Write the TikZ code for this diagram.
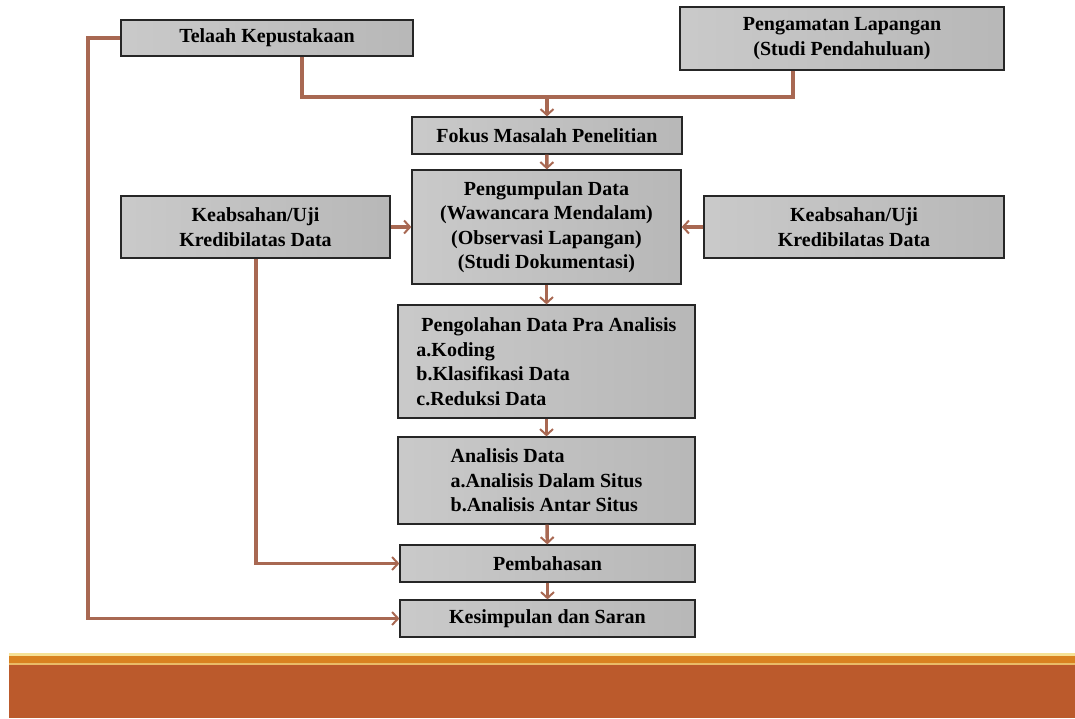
\documentclass[tikz,border=0pt]{standalone}
\usepackage{fontspec}
\setmainfont{Liberation Serif}
\usetikzlibrary{arrows.meta}

\definecolor{linkbrown}{RGB}{168,104,82}
\definecolor{bandorange}{RGB}{217,130,32}
\definecolor{bandred}{RGB}{187,90,44}
\definecolor{bandlight}{RGB}{246,226,150}

\tikzset{every picture/.style={line width=1.2pt}}
\tikzset{
  stepnode/.style={draw=black!85, inner sep=2pt, left color=black!21, right color=black!28,
    font=\fontsize{20}{24.5}\selectfont\bfseries},
  link/.style={draw=linkbrown, line width=3.4pt},
  linkarrow/.style={link, -{Straight Barb[length=6pt,width=13pt,line width=2pt]}}
}

\begin{document}
\begin{tikzpicture}[x=1pt,y=1pt,yscale=-1,xscale=1]
\useasboundingbox (0,0) rectangle (1075,718);

% top row
\node [stepnode, minimum width=292pt, minimum height=36pt] (tel) at (267,38) {Telaah Kepustakaan};
\node [stepnode, minimum width=324pt, minimum height=63pt, align=center] (pen) at (842,38.5) {Pengamatan Lapangan\\(Studi Pendahuluan)};

% middle column
\node [stepnode, minimum width=270pt, minimum height=37pt] (fok) at (547,135.5) {Fokus Masalah Penelitian};
\node [stepnode, minimum width=269pt, minimum height=114pt, align=center] (kum) at (546.5,227) {Pengumpulan Data\\(Wawancara Mendalam)\\(Observasi Lapangan)\\(Studi Dokumentasi)};
\node [stepnode, minimum width=297pt, minimum height=113pt, align=left] (olah) at (546.5,361.5) {\hspace*{5pt}Pengolahan Data Pra Analisis\\a.Koding\\b.Klasifikasi Data\\c.Reduksi Data};
\node [stepnode, minimum width=297pt, minimum height=87pt, align=left] (ana) at (546.5,480.5) {Analisis Data\\a.Analisis Dalam Situs\\b.Analisis Antar Situs};
\node [stepnode, minimum width=295pt, minimum height=37pt] (bhs) at (547.5,563.5) {Pembahasan};
\node [stepnode, minimum width=295pt, minimum height=37pt] (sim) at (547.5,618.5) {Kesimpulan dan Saran};

% side boxes
\node [stepnode, minimum width=269pt, minimum height=62pt, align=center] (keabL) at (255.5,227) {Keabsahan/Uji\\Kredibilatas Data};
\node [stepnode, minimum width=300pt, minimum height=62pt, align=center] (keabR) at (854,227) {Keabsahan/Uji\\Kredibilatas Data};

% junction above Fokus
\coordinate (jn) at (547,97);
\coordinate (bendL) at (88,38);
\coordinate (bendK) at (256,563);

% connectors
\draw [link] ([xshift=35pt]tel.south) |- (jn);
\draw [link] ([xshift=-49pt]pen.south) |- (jn);
\draw [linkarrow] (jn) -- (fok);
\draw [linkarrow] (fok) -- (kum);
\draw [linkarrow] (keabL) -- (kum);
\draw [linkarrow] (keabR) -- (kum);
\draw [linkarrow] (kum) -- (olah);
\draw [linkarrow] (olah) -- (ana);
\draw [linkarrow] (ana) -- (bhs);
\draw [linkarrow] (bhs) -- (sim);
\draw [linkarrow] (keabL.south -| bendK) |- (bhs.west);
\draw [linkarrow] (tel.west) -- (bendL) |- (sim.west);

% bottom band
\fill [bandlight] (9,653) rectangle (1075,656);
\fill [bandorange] (9,656) rectangle (1075,663);
\fill [bandlight!60!bandorange] (9,663) rectangle (1075,665);
\fill [bandred] (9,665) rectangle (1075,718);

\end{tikzpicture}
\end{document}
